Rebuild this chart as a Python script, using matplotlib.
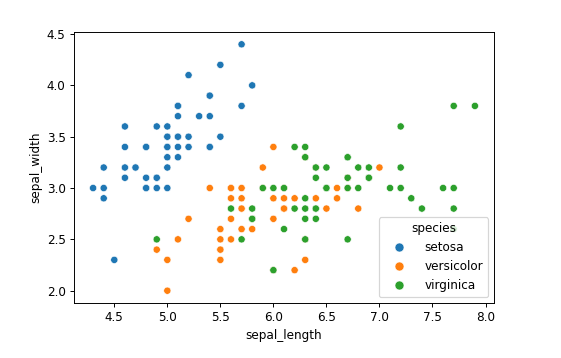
import matplotlib
matplotlib.use("Agg")
import matplotlib.pyplot as plt
import seaborn as sns
import pandas as pd

species_names = ["setosa", "versicolor", "virginica"]

setosa_length = [5.1, 4.9, 4.7, 4.6, 5.0, 5.4, 4.6, 5.0, 4.4, 4.9, 5.4, 4.8, 4.8, 4.3, 5.8, 5.7, 5.4, 5.1, 5.7, 5.1,
                 5.4, 5.1, 4.6, 5.1, 4.8, 5.0, 5.0, 5.2, 5.2, 4.7, 4.8, 5.4, 5.2, 5.5, 4.9, 5.0, 5.5, 4.9, 4.4, 5.1,
                 5.0, 4.5, 4.4, 5.0, 5.1, 4.8, 5.1, 4.6, 5.3, 5.0]
setosa_width = [3.5, 3.0, 3.2, 3.1, 3.6, 3.9, 3.4, 3.4, 2.9, 3.1, 3.7, 3.4, 3.0, 3.0, 4.0, 4.4, 3.9, 3.5, 3.8, 3.8,
                3.4, 3.7, 3.6, 3.3, 3.4, 3.0, 3.4, 3.5, 3.4, 3.2, 3.1, 3.4, 4.1, 4.2, 3.1, 3.2, 3.5, 3.6, 3.0, 3.4,
                3.5, 2.3, 3.2, 3.5, 3.8, 3.0, 3.8, 3.2, 3.7, 3.3]

versicolor_length = [7.0, 6.4, 6.9, 5.5, 6.5, 5.7, 6.3, 4.9, 6.6, 5.2, 5.0, 5.9, 6.0, 6.1, 5.6, 6.7, 5.6, 5.8, 6.2, 5.6,
                     5.9, 6.1, 6.3, 6.1, 6.4, 6.6, 6.8, 6.7, 6.0, 5.7, 5.5, 5.5, 5.8, 6.0, 5.4, 6.0, 6.7, 6.3, 5.6, 5.5,
                     5.5, 6.1, 5.8, 5.0, 5.6, 5.7, 5.7, 6.2, 5.1, 5.7]
versicolor_width = [3.2, 3.2, 3.1, 2.3, 2.8, 2.8, 3.3, 2.4, 2.9, 2.7, 2.0, 3.0, 2.2, 2.9, 2.9, 3.1, 3.0, 2.7, 2.2, 2.5,
                    3.2, 2.8, 2.5, 2.8, 2.9, 3.0, 2.8, 3.0, 2.9, 2.6, 2.4, 2.4, 2.7, 2.7, 3.0, 3.4, 3.1, 2.3, 3.0, 2.5,
                    2.6, 3.0, 2.6, 2.3, 2.7, 3.0, 2.9, 2.9, 2.5, 2.8]

virginica_length = [6.3, 5.8, 7.1, 6.3, 6.5, 7.6, 4.9, 7.3, 6.7, 7.2, 6.5, 6.4, 6.8, 5.7, 5.8, 6.4, 6.5, 7.7, 7.7, 6.0,
                    6.9, 5.6, 7.7, 6.3, 6.7, 7.2, 6.2, 6.1, 6.4, 7.2, 7.4, 7.9, 6.4, 6.3, 6.1, 7.7, 6.3, 6.4, 6.0, 6.9,
                    6.7, 6.9, 5.8, 6.8, 6.7, 6.7, 6.3, 6.5, 6.2, 5.9]
virginica_width = [3.3, 2.7, 3.0, 2.9, 3.0, 3.0, 2.5, 2.9, 2.5, 3.6, 3.2, 2.7, 3.0, 2.5, 2.8, 3.2, 3.0, 3.8, 2.6, 2.2,
                   3.2, 2.8, 2.8, 2.7, 3.3, 3.2, 2.8, 3.0, 2.8, 3.0, 2.8, 3.8, 2.8, 2.8, 2.6, 3.0, 3.4, 3.1, 3.0, 3.1,
                   3.1, 3.1, 2.7, 3.2, 3.3, 3.0, 2.5, 3.0, 3.4, 3.0]

df = pd.concat([
    pd.DataFrame({"sepal_length": setosa_length, "sepal_width": setosa_width, "species": "setosa"}),
    pd.DataFrame({"sepal_length": versicolor_length, "sepal_width": versicolor_width, "species": "versicolor"}),
    pd.DataFrame({"sepal_length": virginica_length, "sepal_width": virginica_width, "species": "virginica"}),
], ignore_index=True)

DPI = 86.4
fig = plt.figure(figsize=(561 / DPI, 358 / DPI), dpi=DPI)
ax = fig.add_axes([74 / 561, 55 / 358, 420 / 561, 271 / 358])
sns.scatterplot(data=df, x="sepal_length", y="sepal_width", hue="species",
                hue_order=species_names, ax=ax)
ax.set_xticks([4.5, 5.0, 5.5, 6.0, 6.5, 7.0, 7.5, 8.0])
ax.set_yticks([2.0, 2.5, 3.0, 3.5, 4.0, 4.5])
ax.legend(title="species", loc="lower right", handlelength=2.6, markerscale=1.25)
fig.savefig("out.png", dpi=DPI)
